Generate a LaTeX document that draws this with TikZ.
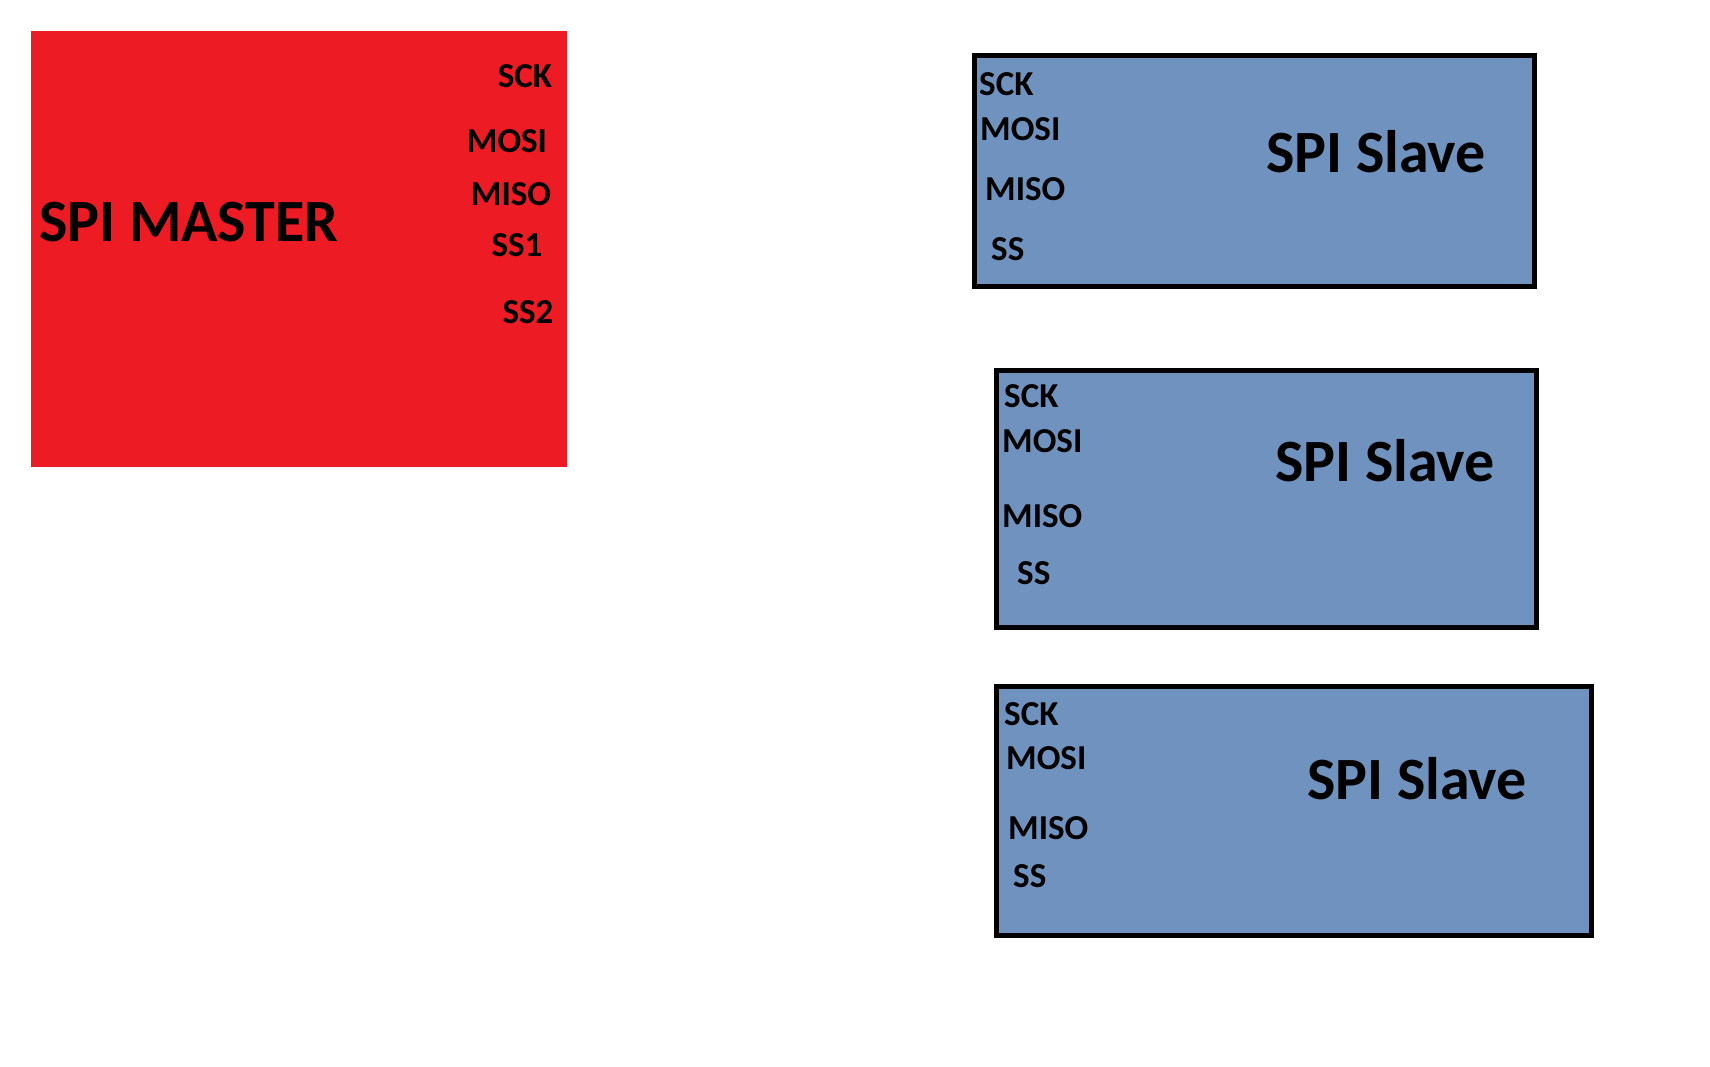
\documentclass[tikz,border=0pt]{standalone}
\usepackage{fontspec}
\setmainfont{Carlito}
\definecolor{masterred}{HTML}{ED1C24}
\definecolor{slaveblue}{HTML}{7092BE}
\begin{document}
\begin{tikzpicture}[x=1pt,y=-1pt]
      \tikzstyle{master}=[fill=masterred, draw=none, anchor=north west, inner sep=0pt]
      \tikzstyle{slave}=[fill=slaveblue, draw=black, line width=5pt, anchor=north west, inner sep=0pt]
      \tikzstyle{pin}=[inner sep=0pt, font=\fontsize{35}{35}\selectfont\bfseries]
      \tikzstyle{title}=[inner sep=0pt, font=\fontsize{60}{60}\selectfont\bfseries]
      \useasboundingbox (0,0) rectangle (1710,1066);
      % master
      \node[master, minimum width=536pt, minimum height=436pt] (master) at (31,31) {};
      \node[title, anchor=west] (mastername) at (39,222) {SPI MASTER};
      \node[pin] (msck) at (525,76) {SCK};
      \node[pin] (mmosi) at (507,141) {MOSI};
      \node[pin] (mmiso) at (511,194) {MISO};
      \node[pin] (mssa) at (517,245) {SS1};
      \node[pin] (mssb) at (528,312) {SS2};
      % slave 1
      \node[slave, minimum width=560pt, minimum height=231pt] (slavea) at (972,53) {};
      \node[title] (slaveaname) at (1376,152) {SPI Slave};
      \node[pin, anchor=west] (asck) at (979,84) {SCK};
      \node[pin, anchor=west] (amosi) at (980,129) {MOSI};
      \node[pin, anchor=west] (amiso) at (985,189) {MISO};
      \node[pin, anchor=west] (ass) at (991,249) {SS};
      % slave 2
      \node[slave, minimum width=540pt, minimum height=257pt] (slaveb) at (994,368) {};
      \node[title] (slavebname) at (1385,461) {SPI Slave};
      \node[pin, anchor=west] (bsck) at (1004,396) {SCK};
      \node[pin, anchor=west] (bmosi) at (1002,441) {MOSI};
      \node[pin, anchor=west] (bmiso) at (1002,516) {MISO};
      \node[pin, anchor=west] (bss) at (1017,573) {SS};
      % slave 3
      \node[slave, minimum width=595pt, minimum height=249pt] (slavec) at (994,684) {};
      \node[title] (slavecname) at (1417,779) {SPI Slave};
      \node[pin, anchor=west] (csck) at (1004,714) {SCK};
      \node[pin, anchor=west] (cmosi) at (1006,758) {MOSI};
      \node[pin, anchor=west] (cmiso) at (1008,828) {MISO};
      \node[pin, anchor=west] (css) at (1013,876) {SS};
\end{tikzpicture}
\end{document}
